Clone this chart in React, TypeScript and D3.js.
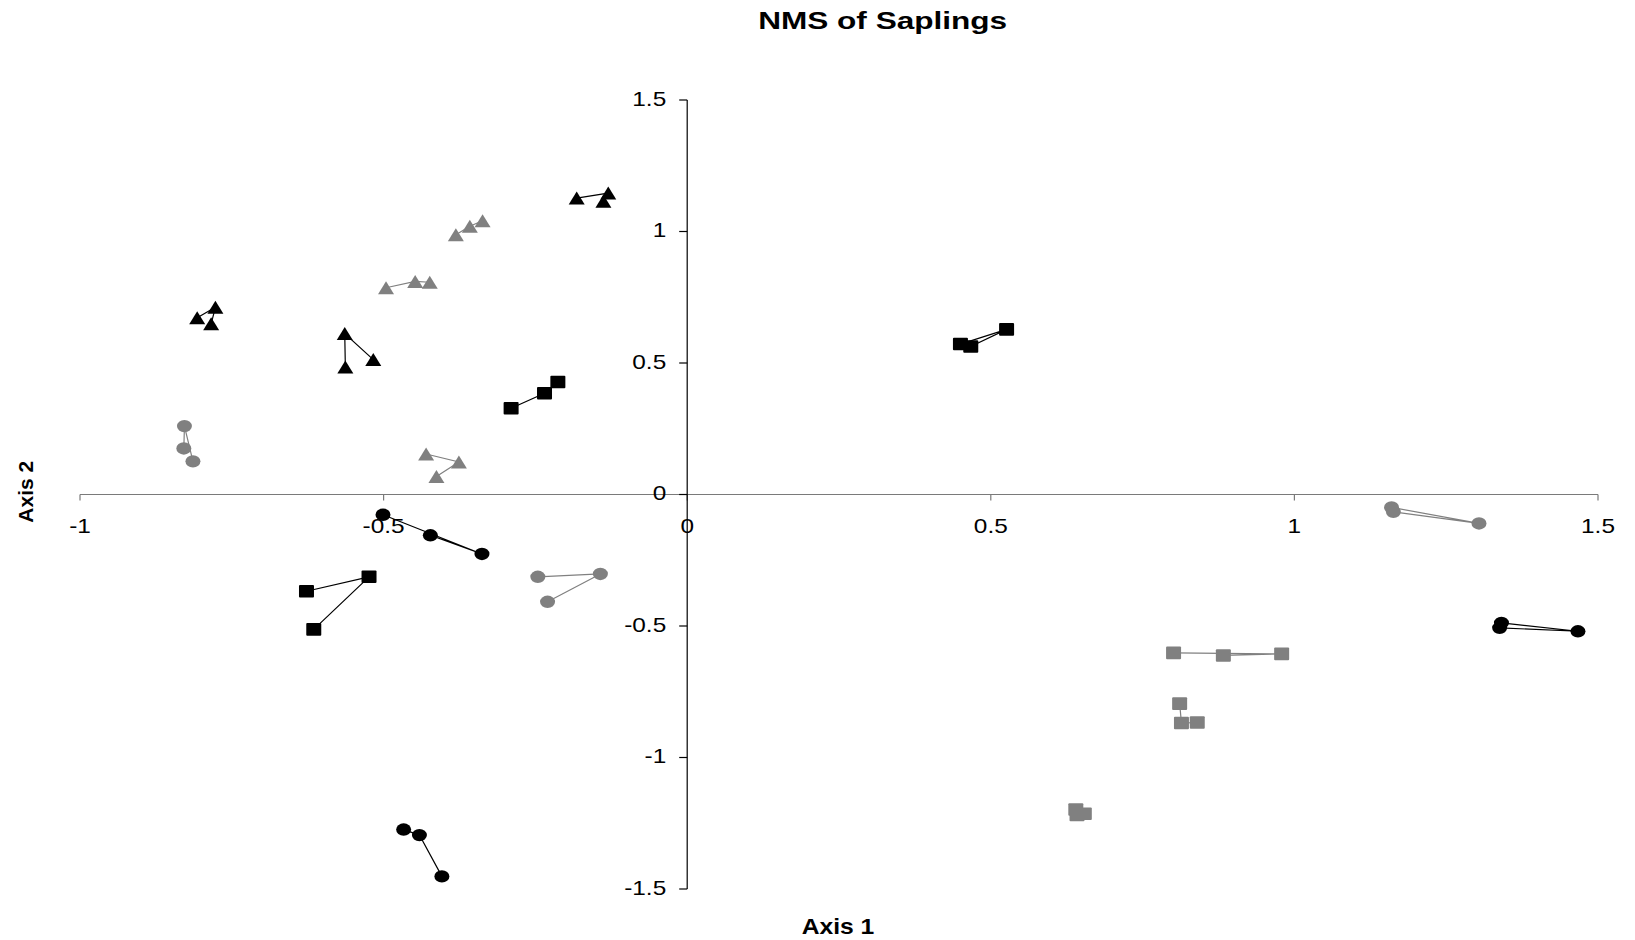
import React from "react";
import * as d3 from "d3";

type Pt = [number, number];

// ---- data ----
const blackTriangles1: Pt[] = [[-0.182, 1.127], [-0.130, 1.146], [-0.138, 1.115]];
const blackTriangles2: Pt[] = [[-0.807, 0.672], [-0.777, 0.712], [-0.784, 0.649]];
const blackTriangles3: Pt[] = [[-0.563, 0.485], [-0.564, 0.612], [-0.517, 0.513]];

const grayTriangles1: Pt[] = [[-0.381, 0.988], [-0.358, 1.020], [-0.337, 1.041]];
const grayTriangles2: Pt[] = [[-0.496, 0.786], [-0.448, 0.810], [-0.424, 0.807]];
const grayTriangles3: Pt[] = [[-0.430, 0.154], [-0.376, 0.124], [-0.413, 0.068]];

const grayCircles1: Pt[] = [[-0.829, 0.175], [-0.828, 0.260], [-0.814, 0.126]];
const grayCircles2: Pt[] = [[-0.246, -0.313], [-0.143, -0.302], [-0.230, -0.408]];
const grayCircles3: Pt[] = [[1.160, -0.049], [1.304, -0.110], [1.163, -0.066]];

const blackCircles1: Pt[] = [[-0.501, -0.077], [-0.338, -0.226], [-0.423, -0.155]];
const blackCircles2: Pt[] = [[1.341, -0.488], [1.467, -0.520], [1.338, -0.507]];
const blackCircles3: Pt[] = [[-0.467, -1.274], [-0.441, -1.295], [-0.404, -1.452]];

const blackSquares1: Pt[] = [[-0.290, 0.328], [-0.235, 0.385], [-0.213, 0.428]];
const blackSquares2: Pt[] = [[-0.627, -0.368], [-0.524, -0.313], [-0.615, -0.513]];
const blackSquares3: Pt[] = [[0.450, 0.572], [0.526, 0.628], [0.467, 0.563]];

const graySquares1: Pt[] = [[0.801, -0.602], [0.979, -0.606], [0.883, -0.612]];
const graySquares2: Pt[] = [[0.811, -0.795], [0.814, -0.869], [0.840, -0.867]];
const graySquares3: Pt[] = [[0.640, -1.198], [0.642, -1.218], [0.654, -1.214]];

const xTicks = [-1, -0.5, 0, 0.5, 1, 1.5];
const yTicks = [-1.5, -1, -0.5, 0, 0.5, 1, 1.5];
const xTickLabels = ["-1", "-0.5", "0", "0.5", "1", "1.5"];
const yTickLabels = ["-1.5", "-1", "-0.5", "0", "0.5", "1", "1.5"];

const titleText = "NMS of Saplings";
const xTitle = "Axis 1";
const yTitle = "Axis 2";

type Shape = "triangle" | "circle" | "square";
const BLACK = "#000000";
const GRAY = "#808080";

const seriesList: { pts: Pt[]; shape: Shape; color: string }[] = [
  { pts: blackTriangles1, shape: "triangle", color: BLACK },
  { pts: blackTriangles2, shape: "triangle", color: BLACK },
  { pts: blackTriangles3, shape: "triangle", color: BLACK },
  { pts: grayTriangles1, shape: "triangle", color: GRAY },
  { pts: grayTriangles2, shape: "triangle", color: GRAY },
  { pts: grayTriangles3, shape: "triangle", color: GRAY },
  { pts: grayCircles1, shape: "circle", color: GRAY },
  { pts: grayCircles2, shape: "circle", color: GRAY },
  { pts: grayCircles3, shape: "circle", color: GRAY },
  { pts: blackCircles1, shape: "circle", color: BLACK },
  { pts: blackCircles2, shape: "circle", color: BLACK },
  { pts: blackCircles3, shape: "circle", color: BLACK },
  { pts: blackSquares1, shape: "square", color: BLACK },
  { pts: blackSquares2, shape: "square", color: BLACK },
  { pts: blackSquares3, shape: "square", color: BLACK },
  { pts: graySquares1, shape: "square", color: GRAY },
  { pts: graySquares2, shape: "square", color: GRAY },
  { pts: graySquares3, shape: "square", color: GRAY },
];

const FONT = "'Liberation Sans', Arial, Helvetica, sans-serif";

export default function App() {
  const W = 1635;
  const H = 940;
  const x = d3.scaleLinear().domain([-1, 1.5]).range([80, 1598]);
  const y = d3.scaleLinear().domain([-1.5, 1.5]).range([889, 100]);
  const x0 = x(0);
  const y0 = y(0);
  const line = d3
    .line<Pt>()
    .x((d) => x(d[0]))
    .y((d) => y(d[1]));

  const marker = (shape: Shape, cx: number, cy: number, color: string, key: string) => {
    if (shape === "circle") {
      return <ellipse key={key} cx={cx} cy={cy} rx={7.5} ry={6.2} fill={color} />;
    }
    if (shape === "square") {
      return (
        <rect key={key} x={cx - 7.5} y={cy - 6.3} width={15} height={12.6} rx={1} fill={color} />
      );
    }
    const hw = 8;
    const hh = 6.5;
    return (
      <path
        key={key}
        d={`M${cx},${cy - hh}L${cx + hw},${cy + hh}L${cx - hw},${cy + hh}Z`}
        fill={color}
      />
    );
  };

  return (
    <svg
      width={W}
      height={H}
      style={{ position: "absolute", left: 0, top: 0, background: "#fff" }}
      fontFamily={FONT}
    >
      <rect x={0} y={0} width={W} height={H} fill="#fff" />
      {/* title */}
      <text
        x={882.7}
        y={29.3}
        textAnchor="middle"
        fontSize={24.5}
        fontWeight="bold"
        textLength={249}
        lengthAdjust="spacingAndGlyphs"
      >
        {titleText}
      </text>

      {/* x axis */}
      <line x1={x(-1)} x2={x(1.5)} y1={y0} y2={y0} stroke="#7a7a7a" strokeWidth={1.2} />
      {xTicks.map((t, i) => (
        <g key={"xt" + i}>
          <line x1={x(t)} x2={x(t)} y1={y0} y2={y0 + 6} stroke="#7a7a7a" strokeWidth={1.2} />
          <text
            transform={`translate(${x(t)},${y0 + 38.5}) scale(1.22,1)`}
            textAnchor="middle"
            fontSize={20}
            fill="#000"
          >
            {xTickLabels[i]}
          </text>
        </g>
      ))}

      {/* y axis */}
      <line x1={x0} x2={x0} y1={y(1.5)} y2={y(-1.5)} stroke="#000" strokeWidth={1.2} />
      {yTicks.map((t, i) => (
        <g key={"yt" + i}>
          <line x1={x0 - 8} x2={x0} y1={y(t)} y2={y(t)} stroke="#000" strokeWidth={1.2} />
          <text
            transform={`translate(${x0 - 21},${y(t) + 5.5}) scale(1.22,1)`}
            textAnchor="end"
            fontSize={20}
            fill="#000"
          >
            {yTickLabels[i]}
          </text>
        </g>
      ))}

      {/* axis titles */}
      <text
        x={838}
        y={934}
        textAnchor="middle"
        fontSize={22}
        fontWeight="bold"
        textLength={72.6}
        lengthAdjust="spacingAndGlyphs"
      >
        {xTitle}
      </text>
      <text
        transform={`translate(33.3,491.7) rotate(-90)`}
        textAnchor="middle"
        fontSize={21}
        fontWeight="bold"
      >
        {yTitle}
      </text>

      {/* connecting lines */}
      {seriesList.map((s, i) => (
        <path
          key={"l" + i}
          d={line(s.pts) || ""}
          fill="none"
          stroke={s.color}
          strokeWidth={1.2}
        />
      ))}

      {/* markers */}
      {seriesList.map((s, i) =>
        s.pts.map((p, j) => marker(s.shape, x(p[0]), y(p[1]), s.color, `m${i}-${j}`))
      )}
    </svg>
  );
}
